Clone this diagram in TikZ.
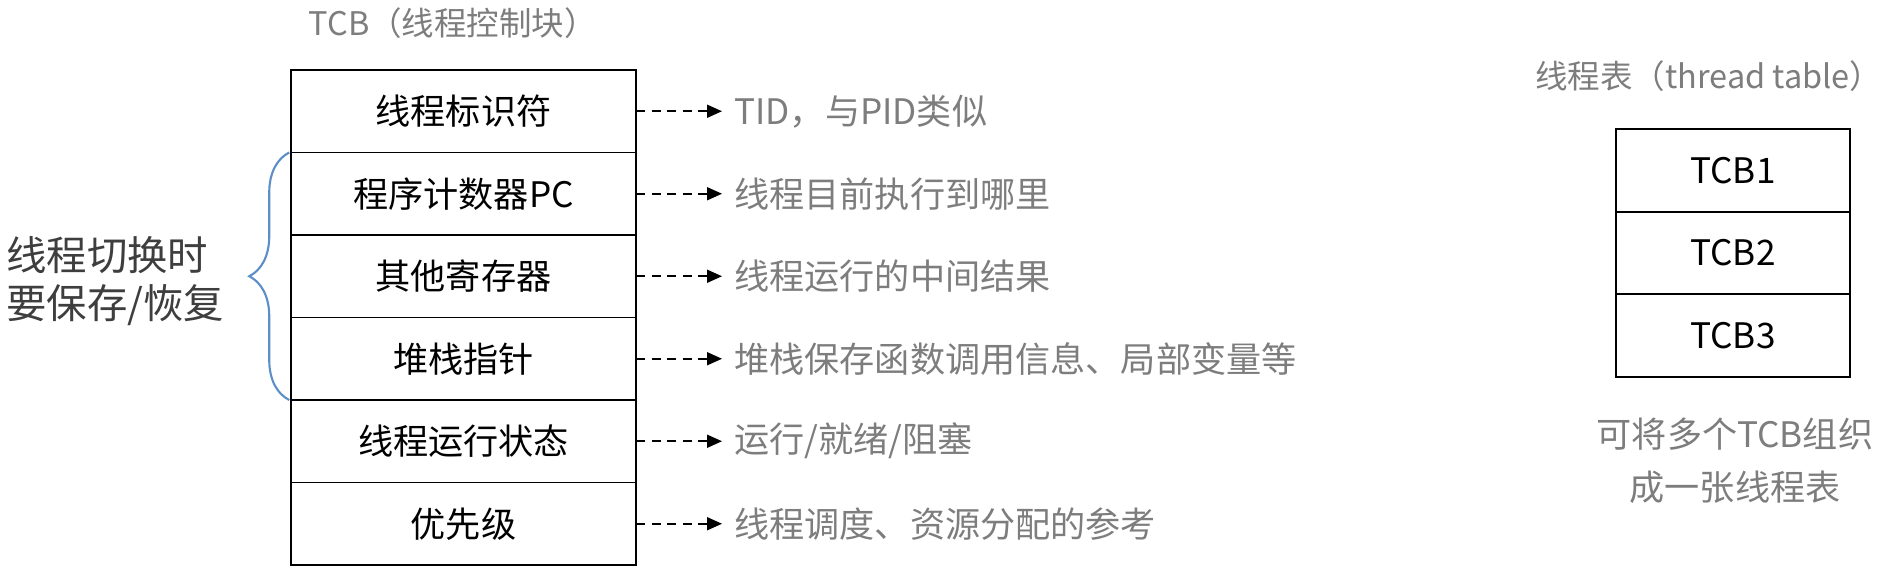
\documentclass[tikz,border=0pt]{standalone}
\usepackage{fontspec}
\setmainfont{Noto Sans CJK SC}
\usetikzlibrary{arrows.meta, positioning, decorations.pathreplacing}
\definecolor{txtgray}{RGB}{125,125,125}
\definecolor{notegray}{RGB}{62,62,62}
\definecolor{braceblue}{RGB}{92,142,200}
\tikzset{
  field/.style={draw, line width=0.9pt, minimum width=6.9cm, minimum height=1.65cm, outer sep=0pt, inner sep=0pt, font=\fontsize{20}{24}\selectfont},
  tabrow/.style={field, minimum width=4.68cm},
  desc/.style={text=txtgray, font=\fontsize{20}{24}\selectfont, inner sep=0.24cm},
  heading/.style={text=txtgray, font=\fontsize{18.5}{22}\selectfont},
  sidenote/.style={text=notegray, align=left, font=\fontsize{23}{27}\selectfont},
  darr/.style={-{Triangle[length=3mm, width=2.6mm]}, dash pattern=on 1.8mm off 1.3mm, line width=1pt},
  lbrace/.style={decorate, decoration={brace, amplitude=0.8cm}, draw=braceblue, line width=1.2pt},
}

\begin{document}
\begin{tikzpicture}[node distance=0pt]
  \useasboundingbox (0,0) rectangle (38.04,-11.38);
  % TCB fields
  \node[heading, anchor=west] (tcbtitle) at (6.05,-0.46) {TCB（线程控制块）};
  \node[field] (f1) at (9.27,-2.225) {线程标识符};
  \node[field, below=of f1] (f2) {程序计数器PC};
  \node[field, below=of f2] (f3) {其他寄存器};
  \node[field, below=of f3] (f4) {堆栈指针};
  \node[field, below=of f4] (f5) {线程运行状态};
  \node[field, below=of f5] (f6) {优先级};
  % what each field holds
  \node[desc, right=1.72cm of f1] (d1) {TID，与PID类似};
  \node[desc, right=1.72cm of f2] (d2) {线程目前执行到哪里};
  \node[desc, right=1.72cm of f3] (d3) {线程运行的中间结果};
  \node[desc, right=1.72cm of f4] (d4) {堆栈保存函数调用信息、局部变量等};
  \node[desc, right=1.72cm of f5] (d5) {运行/就绪/阻塞};
  \node[desc, right=1.72cm of f6] (d6) {线程调度、资源分配的参考};
  \foreach \i in {1,...,6}
    \draw[darr] (f\i) -- (d\i);
  % saved on a switch
  \draw[lbrace] ([xshift=-1pt]f4.south west) -- ([xshift=-1pt]f2.north west);
  \node[sidenote, anchor=west] (save) at (0,-5.62) {线程切换时\\要保存/恢复};
  % thread table
  \node[heading, anchor=west] (tabtitle) at (30.58,-1.52) {线程表（thread table）};
  \node[tabrow] (t1) at (34.66,-3.41) {TCB1};
  \node[tabrow, below=of t1] (t2) {TCB2};
  \node[tabrow, below=of t2] (t3) {TCB3};
  \node[desc, align=center, font=\fontsize{20}{30}\selectfont] (merge) at (34.7,-9.22) {可将多个TCB组织\\成一张线程表};
\end{tikzpicture}
\end{document}
